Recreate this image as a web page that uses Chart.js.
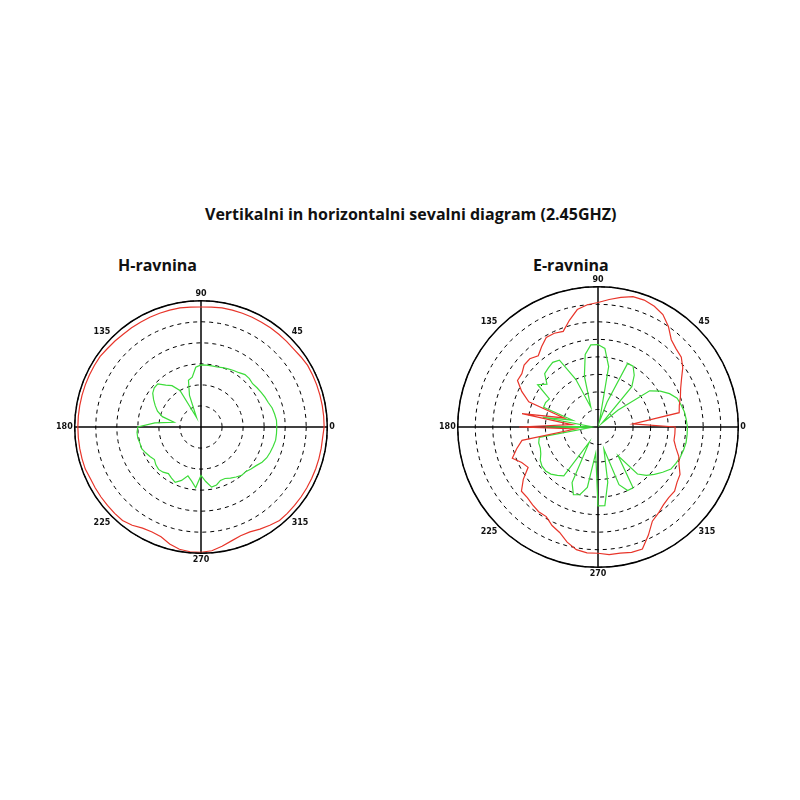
<!DOCTYPE html>
<html>
<head>
<meta charset="utf-8">
<script src="https://cdn.jsdelivr.net/npm/chart.js@4.4.1/dist/chart.umd.min.js"></script>
<style>
  body { margin: 0; background: #fff; width: 800px; height: 800px; position: relative; font-family: "Open Sans", sans-serif; }
  .t { position: absolute; font-weight: bold; color: #111; white-space: nowrap; }
  .box { position: absolute; }
</style>
</head>
<body>
<div class="t" style="left:205px; top:203px; font-size:16px;">Vertikalni in horizontalni sevalni diagram (2.45GHZ)</div>
<div class="t" style="left:118px; top:254px; font-size:16px;">H-ravnina</div>
<div class="t" style="left:533px; top:254px; font-size:16px;">E-ravnina</div>
<div class="box" style="left:51px; top:283px; width:290px; height:290px;"><canvas id="h"></canvas></div>
<div class="box" style="left:434px; top:269px; width:318px; height:318px;"><canvas id="e"></canvas></div>
<script>
// angles 0..355 step 5 degrees
const angles = [];
for (let a = 0; a < 360; a += 5) angles.push(a);

const hRed = [5.85,5.85,5.85,5.85,5.85,5.85,5.85,5.8,5.75,5.75,5.75,5.75,5.75,5.75,5.75,5.75,5.75,5.72,
  5.7,5.72,5.75,5.75,5.75,5.75,5.75,5.75,5.75,5.78,5.8,5.85,5.85,5.85,5.85,5.85,5.85,5.85,
  5.85,5.85,5.85,5.85,5.85,5.8,5.8,5.8,5.8,5.8,5.8,5.7,5.55,5.5,5.55,5.75,5.9,5.95,
  5.95,5.9,5.75,5.6,5.5,5.5,5.6,5.7,5.8,5.8,5.8,5.8,5.8,5.8,5.8,5.8,5.8,5.8];
const hGreen = [3.6,3.6,3.55,3.5,3.4,3.35,3.3,3.25,3.2,3.25,3.25,3.15,3.1,3.05,3.0,2.95,2.95,2.95,
  2.95,2.85,2.4,2.3,1.6,0.5,2.0,2.4,2.6,2.9,2.9,2.8,2.6,2.4,2.2,1.9,1.3,2.2,
  3.0,3.05,3.05,3.0,3.0,2.9,2.8,2.7,2.8,2.85,2.8,2.7,2.8,2.9,2.7,2.4,2.6,2.9,
  2.3,2.6,2.9,2.85,2.7,2.7,2.8,2.9,3.0,3.0,3.1,3.2,3.35,3.45,3.5,3.55,3.6,3.6];
const eRed = [4.4,2.0,4.7,4.8,5.0,5.2,5.5,5.9,6.2,6.3,6.5,7.0,7.4,7.6,7.7,7.7,7.5,7.3,
  7.1,7.0,6.8,6.3,5.8,5.9,5.9,5.6,5.3,5.5,5.5,5.3,5.3,4.8,4.2,2.0,4.4,1.5,
  4.5,1.3,4.4,4.8,5.2,4.8,4.6,5.2,5.7,5.7,5.8,5.9,5.9,6.2,6.4,6.8,7.1,7.2,
  7.2,7.3,7.3,7.4,7.4,6.8,6.2,6.0,5.8,5.7,5.7,5.5,5.4,5.1,4.9,4.6,4.4,4.4];
const eGreen = [5.1,5.05,5.0,4.9,4.8,4.5,4.1,3.6,1.5,0.3,3.0,3.6,4.0,4.0,1.5,0.3,3.5,4.5,
  4.7,4.7,4.2,3.0,1.2,3.0,4.4,4.5,4.4,4.3,3.8,4.2,3.2,3.3,3.3,1.5,3.2,0.5,
  3.0,0.5,3.4,3.5,3.5,3.6,3.8,3.9,3.9,3.8,3.6,3.4,1.0,3.5,4.1,4.0,3.5,1.5,
  4.5,4.5,3.2,1.3,3.5,4.0,4.0,2.0,3.5,3.9,4.2,4.5,4.8,4.9,5.0,5.05,5.1,5.1];

// radar runs clockwise; reorder so angles increase counter-clockwise
const ccw = arr => [arr[0], ...arr.slice(1).reverse()];

const outerRing = {
  id: 'outerRing',
  afterDraw(chart) {
    const s = chart.scales.r, c = chart.ctx;
    c.save();
    c.strokeStyle = '#000';
    c.lineWidth = 1.5;
    c.beginPath();
    c.arc(s.xCenter, s.yCenter, s.drawingArea, 0, Math.PI * 2);
    c.stroke();
    c.restore();
  }
};

function polar(id, red, green, max) {
  new Chart(document.getElementById(id), {
    type: 'radar',
    data: {
      labels: ccw(angles),
      datasets: [
        { data: ccw(red), borderColor: '#e8352a', borderWidth: 1.2, pointRadius: 0, fill: false, tension: 0 },
        { data: ccw(green), borderColor: '#3ddc3a', borderWidth: 1.2, pointRadius: 0, fill: false, tension: 0 }
      ]
    },
    options: {
      responsive: true,
      maintainAspectRatio: false,
      animation: false,
      plugins: { legend: { display: false }, tooltip: { enabled: false } },
      scales: {
        r: {
          min: 0,
          max: max,
          startAngle: 90,
          ticks: { display: false, stepSize: 1 },
          grid: { color: '#000', lineWidth: 1 },
          border: { dash: [4, 4] },
          angleLines: {
            color: ctx => ctx.index % 18 === 0 ? '#000' : 'rgba(0,0,0,0)',
            lineWidth: 1.5
          },
          pointLabels: {
            padding: 2,
            font: { size: 8, weight: 'bold', family: 'DejaVu Sans' },
            color: '#111',
            callback: label => label % 45 === 0 ? String(label) : ''
          }
        }
      }
    },
    plugins: [outerRing]
  });
}

polar('h', hRed, hGreen, 6);
polar('e', eRed, eGreen, 8);
</script>
</body>
</html>
